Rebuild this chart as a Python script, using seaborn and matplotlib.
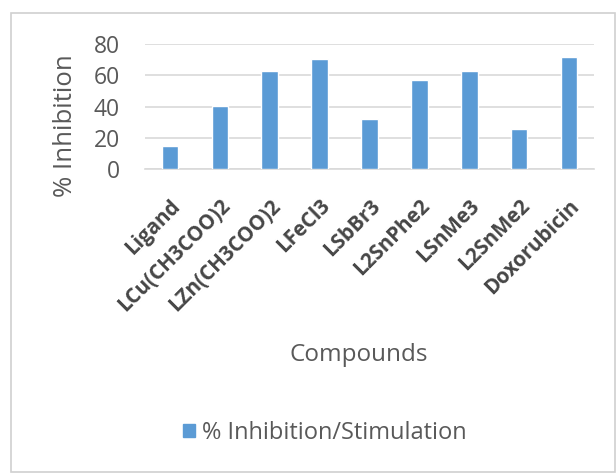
import matplotlib
matplotlib.use("Agg")
import matplotlib.pyplot as plt
from matplotlib.patches import Rectangle, Patch
import seaborn as sns
import pandas as pd

compounds = ["Ligand", "LCu(CH3COO)2", "LZn(CH3COO)2", "LFeCl3", "LSbBr3",
             "L2SnPhe2", "LSnMe3", "L2SnMe2", "Doxorubicin"]
inhibition = [15, 40.5, 62.5, 70.5, 32, 57, 62.5, 25.5, 72]
yticks = [0, 20, 40, 60, 80]
series_name = "% Inhibition/Stimulation"

df = pd.DataFrame({"Compounds": compounds, "value": inhibition})

sns.set_theme(style="white")
plt.rcParams["font.family"] = ["Open Sans", "DejaVu Sans"]

text_color = "#595959"
bar_color = "#5B9BD5"

fig = plt.figure(figsize=(6.16, 4.74), dpi=100)
fig.patch.set_facecolor("white")

# chart-area frame
frame = Rectangle((11 / 616, 2 / 474), 604 / 616, 459 / 474,
                  transform=fig.transFigure, facecolor="none",
                  edgecolor="#d0d0d0", linewidth=1.2, zorder=-1)
fig.patches.append(frame)

ax = fig.add_axes([145 / 616, 1 - 169 / 474, 449 / 616, 125 / 474])
ax.set_facecolor("none")
sns.barplot(data=df, x="Compounds", y="value", color=bar_color,
            width=0.33, saturation=1, ax=ax, zorder=3)

ax.set_ylim(0, 80)
ax.set_yticks(yticks)
ax.set_xlim(-0.5, len(compounds) - 0.5)
ax.yaxis.grid(True, color="#d9d9d9", linewidth=1.2, zorder=0)
ax.set_axisbelow(True)
for side in ["top", "right", "left"]:
    ax.spines[side].set_visible(False)
ax.spines["bottom"].set_color("#d9d9d9")
ax.spines["bottom"].set_linewidth(1.2)
ax.tick_params(axis="both", length=0)

ax.tick_params(axis="y", labelsize=16.5, labelcolor=text_color, pad=18)
ax.set_xticks(range(len(compounds)))
ax.set_xticklabels(compounds, rotation=45, ha="right", rotation_mode="anchor",
                   fontsize=14.8, fontweight="bold", color="#464646")
ax.tick_params(axis="x", pad=19)

ax.set_ylabel("")
ax.set_xlabel("")
fig.text(66 / 616, 1 - 126 / 474, "% Inhibition", fontsize=18.5, color=text_color,
         ha="center", va="center", rotation=90)
fig.text(359 / 616, 1 - 355 / 474, "Compounds", fontsize=17.5, color=text_color,
         ha="center", va="center")

handles = [Patch(facecolor=bar_color, edgecolor=bar_color, label=series_name)]
fig.legend(handles=handles, loc="center", bbox_to_anchor=(325 / 616, 1 - 433 / 474),
           frameon=False, fontsize=17, handlelength=0.5, handleheight=0.5,
           handletextpad=0.3, labelcolor=text_color)

fig.savefig("out.png", dpi=100, facecolor="white")
